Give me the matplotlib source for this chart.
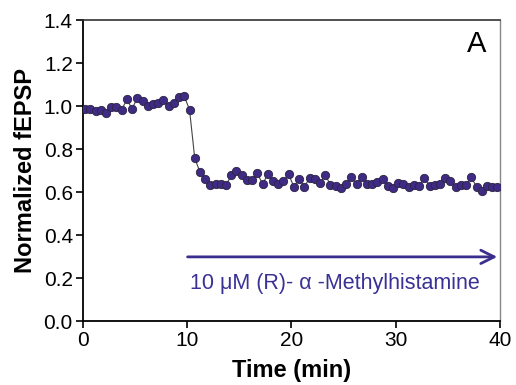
import matplotlib
matplotlib.use('Agg')
import matplotlib.pyplot as plt

plt.rcParams['font.family'] = ['Liberation Sans', 'DejaVu Sans']

# time of each sweep (min)
time_min = [0.25, 0.75, 1.25, 1.75, 2.25, 2.75, 3.25, 3.75, 4.25, 4.75,
            5.25, 5.75, 6.25, 6.75, 7.25, 7.75, 8.25, 8.75, 9.25, 9.75,
            10.25, 10.75, 11.25, 11.75, 12.25, 12.75, 13.25, 13.75, 14.25, 14.75,
            15.25, 15.75, 16.25, 16.75, 17.25, 17.75, 18.25, 18.75, 19.25, 19.75,
            20.25, 20.75, 21.25, 21.75, 22.25, 22.75, 23.25, 23.75, 24.25, 24.75,
            25.25, 25.75, 26.25, 26.75, 27.25, 27.75, 28.25, 28.75, 29.25, 29.75,
            30.25, 30.75, 31.25, 31.75, 32.25, 32.75, 33.25, 33.75, 34.25, 34.75,
            35.25, 35.75, 36.25, 36.75, 37.25, 37.75, 38.25, 38.75, 39.25, 39.75]

# normalized fEPSP slope
fepsp = [0.988, 0.986, 0.978, 0.983, 0.966, 0.996, 0.996, 0.984, 1.031, 0.987,
         1.040, 1.023, 1.003, 1.012, 1.015, 1.028, 1.001, 1.015, 1.043, 1.046,
         0.983, 0.758, 0.694, 0.660, 0.634, 0.638, 0.638, 0.634, 0.678, 0.699,
         0.678, 0.656, 0.659, 0.690, 0.637, 0.685, 0.653, 0.639, 0.653, 0.683,
         0.625, 0.663, 0.626, 0.665, 0.662, 0.643, 0.679, 0.636, 0.628, 0.620,
         0.639, 0.670, 0.637, 0.669, 0.637, 0.637, 0.646, 0.660, 0.631, 0.618,
         0.642, 0.639, 0.626, 0.634, 0.631, 0.664, 0.631, 0.634, 0.637, 0.665,
         0.651, 0.625, 0.634, 0.634, 0.669, 0.626, 0.606, 0.631, 0.625, 0.625]

drug_start = 9.8
drug_end = 40
drug_label = '10 \u03bcM (R)- \u03b1 -Methylhistamine'

fig = plt.figure(figsize=(5.16, 3.85), dpi=100)
ax = fig.add_axes([0.160, 0.165, 0.809, 0.783])

ax.plot(time_min, fepsp, '-', color='#444444', lw=0.8, zorder=2)
ax.plot(time_min, fepsp, 'o', ms=6, mfc='#3f2b85', mec='#2b2540',
        mew=0.6, zorder=3)

# drug application arrow
ax.annotate('', xy=(drug_end, 0.3), xytext=(drug_start, 0.3),
            arrowprops=dict(arrowstyle='->', color='#3b2d8c', lw=2,
                            mutation_scale=24))
ax.text(24.2, 0.175, drug_label, color='#3a3196', fontsize=15.5,
        ha='center', va='center')

ax.text(37.8, 1.29, 'A', fontsize=21, ha='center', va='center')

ax.set_xlim(0, 40)
ax.set_ylim(0, 1.4)
ax.set_xticks([0, 10, 20, 30, 40])
ax.set_yticks([0.0, 0.2, 0.4, 0.6, 0.8, 1.0, 1.2, 1.4])
ax.set_yticklabels(['0.0', '0.2', '0.4', '0.6', '0.8', '1.0', '1.2', '1.4'])
ax.tick_params(direction='out', length=5, width=1.2, labelsize=15, pad=2)

ax.spines['left'].set_linewidth(1.3)
ax.spines['bottom'].set_linewidth(1.3)
ax.spines['top'].set_color('#333333')
ax.spines['top'].set_linewidth(1.2)
ax.spines['right'].set_color('#888888')
ax.spines['right'].set_linewidth(1.0)

ax.set_xlabel('Time (min)', fontsize=17, fontweight='bold', labelpad=6)
ax.set_ylabel('Normalized fEPSP', fontsize=17, fontweight='bold', labelpad=5)

fig.savefig('out.png', dpi=100)
